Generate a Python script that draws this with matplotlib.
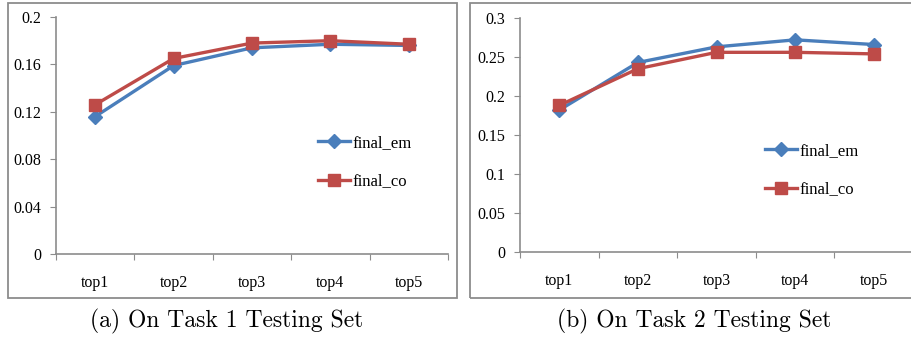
import matplotlib
matplotlib.use("Agg")
import matplotlib.pyplot as plt
from matplotlib.patches import Rectangle

categories = ["top1", "top2", "top3", "top4", "top5"]

# (a) Task 1
task1_em = [0.116, 0.159, 0.174, 0.177, 0.176]
task1_co = [0.126, 0.165, 0.178, 0.180, 0.177]
task1_yticks = [0, 0.04, 0.08, 0.12, 0.16, 0.2]
task1_ylabels = ["0", "0.04", "0.08", "0.12", "0.16", "0.2"]

# (b) Task 2
task2_em = [0.182, 0.243, 0.263, 0.272, 0.266]
task2_co = [0.188, 0.235, 0.256, 0.256, 0.254]
task2_yticks = [0, 0.05, 0.1, 0.15, 0.2, 0.25, 0.3]
task2_ylabels = ["0", "0.05", "0.1", "0.15", "0.2", "0.25", "0.3"]

captions = ["(a) On Task 1 Testing Set", "(b) On Task 2 Testing Set"]

BLUE = "#4A7EBB"
RED = "#BE4B48"
GRAY = "#8C8C8C"
W, H = 911, 341

fig = plt.figure(figsize=(W / 100, H / 100), dpi=100)

# outer frames
for x0, x1 in [(8, 457), (470, 925)]:
    fig.patches.append(Rectangle((x0 / W, (H - 298) / H), (x1 - x0) / W, 295 / H,
                                 transform=fig.transFigure, fill=False,
                                 edgecolor=GRAY, linewidth=1.3))


def draw_panel(rect, em, co, yticks, ylabels, legend_xy):
    ax = fig.add_axes(rect)
    x = range(len(categories))
    ax.plot(x, em, color=BLUE, lw=2.4, marker="D", ms=7.5, label="final_em", zorder=3)
    ax.plot(x, co, color=RED, lw=2.4, marker="s", ms=8.5, label="final_co", zorder=3)
    ax.set_xlim(-0.5, len(categories) - 0.5)
    ax.set_ylim(yticks[0], yticks[-1])
    ax.set_yticks(yticks)
    ax.set_yticklabels(ylabels, fontfamily="Liberation Serif", fontsize=11.5)
    ax.set_xticks([i - 0.5 for i in range(len(categories) + 1)])
    ax.set_xticklabels([])
    ax.set_xticks(list(x), minor=True)
    ax.set_xticklabels(categories, minor=True, fontfamily="Liberation Serif", fontsize=11.5)
    ax.tick_params(axis="x", which="minor", length=0, pad=15)
    ax.tick_params(axis="x", which="major", length=4, color=GRAY, direction="out")
    ax.tick_params(axis="y", length=4, color=GRAY, direction="out", pad=6.5)
    for s in ["top", "right"]:
        ax.spines[s].set_visible(False)
    for s in ["left", "bottom"]:
        ax.spines[s].set_color(GRAY)
        ax.spines[s].set_linewidth(1.2)
    ax.patch.set_alpha(0)
    ax.legend(loc="upper left", bbox_to_anchor=legend_xy, frameon=False,
              handlelength=1.9, handletextpad=0.15, labelspacing=1.35,
              prop={"family": "Liberation Serif", "size": 12})
    return ax


draw_panel([56 / W, (H - 254) / H, 392 / W, 237 / H], task1_em, task1_co,
           task1_yticks, task1_ylabels, (0.63, 0.565))
draw_panel([520 / W, (H - 252) / H, 393 / W, 234 / H], task2_em, task2_co,
           task2_yticks, task2_ylabels, (0.585, 0.53))

for cx, txt in zip([227, 694], captions):
    fig.text(cx / W, (H - 321) / H, txt, ha="center", va="center",
             fontfamily="cmr10", fontsize=17)

fig.savefig("out.png", dpi=100)
